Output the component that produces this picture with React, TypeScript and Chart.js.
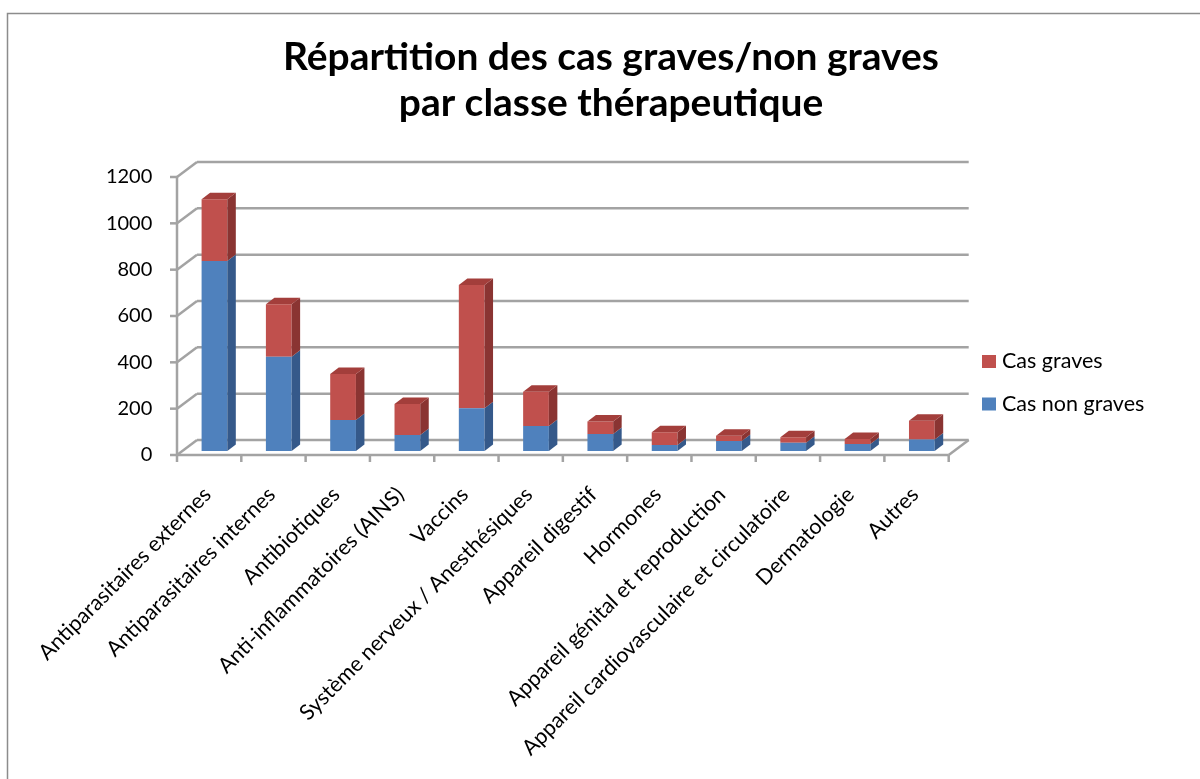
import React, { useEffect, useRef } from 'react';
import { Chart, registerables } from 'chart.js';

Chart.register(...registerables);

const categories = [
  'Antiparasitaires externes',
  'Antiparasitaires internes',
  'Antibiotiques',
  'Anti-inflammatoires (AINS)',
  'Vaccins',
  'Système nerveux / Anesthésiques',
  'Appareil digestif',
  'Hormones',
  'Appareil génital et reproduction',
  'Appareil cardiovasculaire et circulatoire',
  'Dermatologie',
  'Autres',
];
const casNonGraves = [820, 407, 134, 69, 184, 108, 73, 26, 43, 36, 30, 50];
const casGraves = [267, 226, 198, 134, 533, 148, 54, 55, 23, 23, 22, 81];
const yMin = 0;
const yMax = 1200;
const yStep = 200;
const titleLines = ['Répartition des cas graves/non graves', 'par classe thérapeutique'];
const seriesLabels = ['Cas non graves', 'Cas graves'];

const BLUE = '#4F81BD';
const BLUE_SIDE = '#35598A';
const RED = '#C0504D';
const RED_SIDE = '#8A3432';
const RED_TOP = '#A33E3B';
const GRID = '#A3A3A3';

const FRONT_DX = -5.3;
const FRONT_DY = 4;
const WALL_DX = 20;
const WALL_DY = -15;
const BAR_DX = 8.5;
const BAR_DY = -6.5;
const FONT = 'Lato, "Open Sans", sans-serif';

function line(ctx: CanvasRenderingContext2D, x1: number, y1: number, x2: number, y2: number) {
  ctx.beginPath();
  ctx.moveTo(x1, y1);
  ctx.lineTo(x2, y2);
  ctx.stroke();
}

function poly(ctx: CanvasRenderingContext2D, pts: number[][], color: string) {
  ctx.beginPath();
  ctx.moveTo(pts[0][0], pts[0][1]);
  for (let i = 1; i < pts.length; i++) ctx.lineTo(pts[i][0], pts[i][1]);
  ctx.closePath();
  ctx.fillStyle = color;
  ctx.fill();
}

const sideColors = [BLUE_SIDE, RED_SIDE];

const threeD = {
  id: 'threeD',
  beforeDraw(chart: any) {
    const ctx: CanvasRenderingContext2D = chart.ctx;
    ctx.save();
    ctx.fillStyle = '#ffffff';
    ctx.fillRect(0, 0, chart.width, chart.height);
    ctx.strokeStyle = '#8c8c8c';
    ctx.lineWidth = 1.5;
    ctx.beginPath();
    ctx.moveTo(7.5, chart.height);
    ctx.lineTo(7.5, 13.5);
    ctx.lineTo(chart.width, 13.5);
    ctx.stroke();
    ctx.restore();
  },
  beforeDatasetsDraw(chart: any) {
    const ctx: CanvasRenderingContext2D = chart.ctx;
    const { chartArea, scales } = chart;
    const xs = scales.x;
    const ys = scales.y;
    const left = chartArea.left + FRONT_DX;
    const right = chartArea.right + FRONT_DX;
    ctx.save();
    ctx.strokeStyle = GRID;
    ctx.lineWidth = 2.5;
    ys.ticks.forEach((t: any) => {
      const py = ys.getPixelForValue(t.value) + FRONT_DY;
      line(ctx, left - 7, py, left, py);
      line(ctx, left, py, left + WALL_DX, py + WALL_DY);
      line(ctx, left + WALL_DX, py + WALL_DY, right + WALL_DX, py + WALL_DY);
    });
    const y0 = ys.getPixelForValue(yMin) + FRONT_DY;
    const yTop = ys.getPixelForValue(yMax) + FRONT_DY;
    line(ctx, left, yTop, left, y0);
    line(ctx, left, y0, right, y0);
    line(ctx, right, y0, right + WALL_DX, y0 + WALL_DY);
    const n = categories.length;
    const cw = xs.getPixelForValue(1) - xs.getPixelForValue(0);
    for (let i = 0; i <= n; i++) {
      const px = xs.getPixelForValue(0) - cw / 2 + i * cw + FRONT_DX;
      line(ctx, px, y0, px, y0 + 7);
    }
    ctx.restore();
  },
  afterDatasetsDraw(chart: any) {
    const ctx: CanvasRenderingContext2D = chart.ctx;
    const metas = chart.getSortedVisibleDatasetMetas();
    ctx.save();
    metas.forEach((meta: any, mi: number) => {
      const isTop = mi === metas.length - 1;
      meta.data.forEach((el: any) => {
        const p = el.getProps(['x', 'y', 'base', 'width'], true);
        const l = p.x - p.width / 2;
        const r = p.x + p.width / 2;
        const top = Math.min(p.y, p.base);
        const bot = Math.max(p.y, p.base);
        poly(ctx, [[r, top], [r + BAR_DX, top + BAR_DY], [r + BAR_DX, bot + BAR_DY], [r, bot]], sideColors[meta.index]);
        if (isTop) {
          poly(ctx, [[l, top], [l + BAR_DX, top + BAR_DY], [r + BAR_DX, top + BAR_DY], [r, top]], RED_TOP);
        }
      });
    });
    ctx.restore();
  },
  afterDraw(chart: any) {
    const ctx: CanvasRenderingContext2D = chart.ctx;
    ctx.save();
    // title
    ctx.fillStyle = '#000';
    ctx.textAlign = 'center';
    ctx.textBaseline = 'alphabetic';
    let size = 36;
    ctx.font = `bold ${size}px ${FONT}`;
    const w = ctx.measureText(titleLines[0]).width;
    size = size * 656 / w;
    ctx.font = `bold ${size}px ${FONT}`;
    ctx.fillText(titleLines[0], 611, 69.5);
    ctx.fillText(titleLines[1], 611, 115.5);
    // legend (reverse order)
    const ds = chart.data.datasets;
    const items = [ds[1], ds[0]];
    const ys = [361.5, 404];
    ctx.textAlign = 'left';
    ctx.textBaseline = 'middle';
    ctx.font = `21.5px ${FONT}`;
    items.forEach((d: any, i: number) => {
      ctx.fillStyle = d.backgroundColor;
      ctx.fillRect(982, ys[i] - 6.5, 14, 13);
      ctx.fillStyle = '#000';
      ctx.fillText(d.label, 1002, ys[i]);
    });
    ctx.restore();
  },
};

export default function App() {
  const ref = useRef<HTMLCanvasElement | null>(null);
  useEffect(() => {
    if (!ref.current) return;
    const chart = new Chart(ref.current, {
      type: 'bar',
      data: {
        labels: categories,
        datasets: [
          { label: seriesLabels[0], data: casNonGraves, backgroundColor: BLUE, borderWidth: 0 },
          { label: seriesLabels[1], data: casGraves, backgroundColor: RED, borderWidth: 0 },
        ],
      },
      options: {
        responsive: false,
        animation: false,
        layout: { padding: { left: 0, top: 173, right: 246, bottom: 0 } },
        plugins: {
          legend: { display: false },
          title: { display: false },
          tooltip: { enabled: false },
        },
        datasets: { bar: { categoryPercentage: 1, barPercentage: 0.4 } },
        scales: {
          x: {
            stacked: true,
            grid: { display: false, drawTicks: false },
            border: { display: false },
            ticks: {
              autoSkip: false,
              maxRotation: 45,
              minRotation: 45,
              padding: 31,
              labelOffset: -7,
              color: '#000',
              font: { family: FONT, size: 21.5 },
            },
            afterFit: (s: any) => { s.height = 328; },
          },
          y: {
            stacked: true,
            min: yMin,
            max: yMax,
            grid: { display: false, drawTicks: false },
            border: { display: false },
            ticks: {
              stepSize: yStep,
              padding: 30,
              labelOffset: 4,
              color: '#000',
              font: { family: FONT, size: 20 },
              callback: (v: any) => String(v),
            },
            afterFit: (s: any) => { s.width = 182.3; },
          },
        },
      },
      plugins: [threeD],
    } as any);
    return () => chart.destroy();
  }, []);
  return (
    <canvas
      ref={ref}
      width={1200}
      height={779}
      style={{ position: 'absolute', left: 0, top: 0, width: 1200, height: 779 }}
    />
  );
}
